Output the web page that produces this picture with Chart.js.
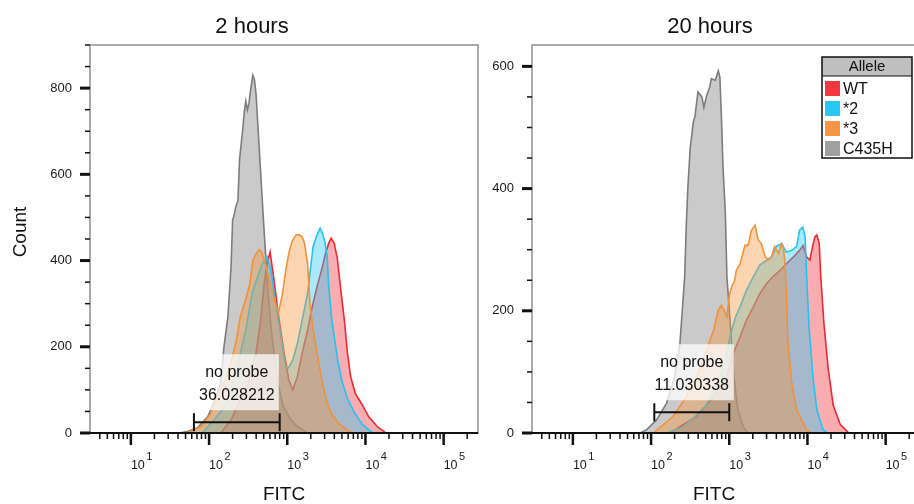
<!DOCTYPE html>
<html>
<head>
<meta charset="utf-8">
<script src="https://cdn.jsdelivr.net/npm/chart.js@4.4.1/dist/chart.umd.min.js"></script>
<style>
html, body { margin:0; padding:0; background:#fff; overflow:hidden; width:914px; height:504px; position:relative; }
canvas { position:absolute; top:0; }
#c1 { left:0; }
#c2 { left:480px; }
</style>
</head>
<body>
<canvas id="c1" width="480" height="504"></canvas>
<canvas id="c2" width="444" height="504"></canvas>
<script>
// ---------- DATA ----------
const seriesNames = ['WT', '*2', '*3', 'C435H'];
const panelTitles = ['2 hours', '20 hours'];
const xTickValues = [10, 100, 1000, 10000, 100000];
const xTickBase = '10';
const xTickExponents = ['1', '2', '3', '4', '5'];
const yTicks2h = [0, 200, 400, 600, 800];
const yTicks20h = [0, 200, 400, 600];

// 2 hours
const fitcC435H_2h = [41.7, 53.7, 70.8, 95.5, 115, 141, 155, 174, 191, 200, 209, 219, 234, 245, 269, 282, 295, 309, 324, 339, 363, 380, 398, 447, 501, 562, 617, 676, 776, 891, 1122, 1349, 1820];
const countC435H_2h = [0, 4, 12, 37, 70, 116, 200, 270, 385, 494, 505, 524, 540, 633, 703, 745, 770, 749, 765, 795, 830, 820, 788, 633, 480, 339, 250, 185, 107, 61, 30, 15, 0];
const fitcS3_2h = [52.5, 79.4, 105, 132, 162, 195, 224, 251, 295, 331, 363, 398, 437, 468, 525, 617, 708, 776, 871, 955, 1047, 1148, 1288, 1413, 1549, 1660, 1820, 1950, 2138, 2399, 2818, 3162, 3631, 4571, 6310, 7244];
const countS3_2h = [0, 15, 45, 90, 125, 170, 215, 270, 310, 345, 400, 415, 425, 420, 393, 339, 301, 281, 324, 378, 417, 444, 459, 460, 455, 440, 393, 301, 239, 185, 115, 76, 46, 22, 3, 0];
const fitcS2_2h = [81.3, 116, 145, 172, 230, 295, 355, 417, 479, 550, 617, 708, 832, 955, 1023, 1175, 1349, 1549, 1820, 1995, 2138, 2399, 2630, 2818, 3020, 3236, 3388, 3715, 4365, 5012, 5888, 7079, 9120, 11750, 13180];
const countS2_2h = [0, 30, 52, 76, 154, 239, 324, 362, 393, 409, 378, 301, 223, 154, 150, 169, 208, 262, 324, 386, 432, 459, 475, 463, 444, 410, 340, 262, 175, 120, 80, 50, 20, 3, 0];
const fitcWT_2h = [141, 191, 240, 309, 398, 457, 501, 550, 603, 676, 776, 912, 1047, 1175, 1349, 1549, 1820, 2089, 2399, 2818, 3090, 3388, 3631, 3981, 4365, 4786, 5370, 5888, 6457, 7413, 9120, 10960, 14130, 18200];
const countWT_2h = [0, 30, 70, 107, 185, 262, 339, 393, 420, 355, 270, 185, 123, 100, 131, 185, 239, 293, 339, 386, 417, 440, 452, 440, 405, 339, 262, 185, 131, 92, 65, 38, 15, 0];

// 20 hours
const fitcC435H_20h = [72.4, 87.1, 117, 158, 200, 234, 269, 282, 295, 316, 347, 363, 398, 447, 473, 513, 562, 589, 661, 724, 759, 794, 832, 891, 933, 1072, 1148, 1288, 1514, 1738];
const countC435H_20h = [0, 5, 21, 49, 92, 147, 256, 340, 400, 465, 509, 517, 558, 550, 533, 552, 566, 580, 577, 593, 582, 517, 435, 360, 256, 147, 92, 38, 10, 0];
const fitcS3_20h = [107, 191, 282, 380, 513, 631, 724, 794, 851, 933, 1000, 1072, 1175, 1230, 1380, 1585, 1738, 1928, 2138, 2344, 2570, 2884, 3162, 3467, 3802, 4266, 4677, 4898, 5129, 5370, 5623, 6310, 7244, 9772, 11220];
const countS3_20h = [0, 27, 59, 92, 136, 168, 201, 209, 201, 190, 225, 239, 250, 266, 277, 307, 307, 332, 340, 316, 310, 288, 283, 288, 305, 294, 310, 305, 283, 228, 147, 81, 38, 5, 0];
const fitcS2_20h = [158, 251, 363, 501, 708, 891, 1023, 1202, 1380, 1660, 2042, 2455, 3020, 3467, 3981, 4677, 5370, 6310, 7244, 7943, 8710, 9333, 9772, 10470, 11750, 13180, 15850, 18200];
const countS2_20h = [0, 10, 27, 45, 80, 115, 158, 190, 207, 234, 256, 275, 283, 288, 305, 310, 296, 299, 305, 332, 337, 321, 256, 174, 92, 38, 5, 0];
const fitcWT_20h = [174, 380, 631, 933, 1122, 1380, 1660, 2042, 2455, 3020, 3631, 4467, 5370, 6607, 7943, 8810, 9772, 10720, 11610, 12450, 13180, 14130, 14790, 16220, 18410, 21380, 26300, 33880];
const countWT_20h = [0, 27, 59, 92, 130, 158, 185, 207, 228, 245, 256, 266, 277, 288, 299, 307, 288, 283, 305, 321, 324, 310, 256, 180, 105, 45, 14, 0];

// gates ("no probe")
const gateName = 'no probe';
const gate2h = [64, 800];
const gateY2h = 25;
const gatePct2h = '36.028212';
const gate20h = [110, 1000];
const gateY20h = 34;
const gatePct20h = '11.030338';

// ---------- STYLE ----------
const FONT = '"Liberation Sans", Arial, Helvetica, sans-serif';
Chart.defaults.font.family = FONT;
const lineColor = { 'WT': 'rgb(238,40,50)', '*2': 'rgb(35,195,240)', '*3': 'rgb(242,145,55)', 'C435H': 'rgb(125,125,125)' };
const fillColor = { 'WT': 'rgba(240,50,60,0.40)', '*2': 'rgba(40,200,245,0.40)', '*3': 'rgba(245,150,60,0.40)', 'C435H': 'rgba(150,150,150,0.50)' };
const keyColor = { 'WT': 'rgb(245,55,65)', '*2': 'rgb(40,200,245)', '*3': 'rgb(245,150,70)', 'C435H': 'rgb(160,160,160)' };
const drawOrder = { '*3': 0, '*2': 1, 'WT': 2, 'C435H': 3 };
const TICK_FONT_SIZE = 12.5;

function pts(xs, ys) { return xs.map((x, i) => ({ x: x, y: ys[i] })); }
function ds(name, xs, ys) {
  return {
    label: name, data: pts(xs, ys), order: drawOrder[name],
    borderColor: lineColor[name], backgroundColor: fillColor[name],
    borderWidth: 1.6, pointRadius: 0, tension: 0, fill: 'origin'
  };
}

const panelPlugin = {
  id: 'panel',
  afterDraw(chart, args, o) {
    const ctx = chart.ctx, a = chart.chartArea, xs = chart.scales.x, ys = chart.scales.y;
    const seg = (x1, y1, x2, y2) => { ctx.beginPath(); ctx.moveTo(x1, y1); ctx.lineTo(x2, y2); ctx.stroke(); };
    ctx.save();
    // gate annotation
    const g1 = xs.getPixelForValue(o.gate[0]), g2 = xs.getPixelForValue(o.gate[1]);
    const gy = ys.getPixelForValue(o.gateY);
    const cx = (g1 + g2) / 2;
    ctx.fillStyle = 'rgba(255,255,255,0.75)';
    ctx.fillRect(cx - 42, gy - 68, 84, 56);
    ctx.strokeStyle = '#111'; ctx.lineWidth = 2;
    seg(g1, gy, g2, gy); seg(g1, gy - 9, g1, gy + 9); seg(g2, gy - 9, g2, gy + 9);
    ctx.fillStyle = '#111'; ctx.font = '16px ' + FONT; ctx.textAlign = 'center'; ctx.textBaseline = 'middle';
    ctx.fillText(gateName, cx, gy - 50);
    ctx.fillText(o.gatePct, cx, gy - 27);
    // frame
    ctx.strokeStyle = '#8f8f8f'; ctx.lineWidth = 1.5;
    ctx.strokeRect(a.left, a.top, a.right - a.left, a.bottom - a.top);
    // x axis line and ticks
    ctx.strokeStyle = '#111'; ctx.lineWidth = 2;
    seg(a.left - 10, a.bottom, a.right, a.bottom);
    for (let e = 0; e <= 5; e++) {
      for (let k = 1; k <= 9; k++) {
        const v = k * Math.pow(10, e);
        if (v <= xs.min || v >= xs.max) continue;
        const px = xs.getPixelForValue(v);
        const major = k === 1;
        ctx.lineWidth = major ? 2.5 : 1.5;
        seg(px, a.bottom, px, a.bottom + (major ? 12 : 6));
      }
    }
    // exponents of the x tick labels (the "10" base is drawn by the axis)
    ctx.fillStyle = '#1a1a1a'; ctx.textAlign = 'left'; ctx.textBaseline = 'alphabetic';
    ctx.font = TICK_FONT_SIZE + 'px ' + FONT;
    const baseW = ctx.measureText(xTickBase).width;
    ctx.font = '11px ' + FONT;
    xTickValues.forEach((v, i) => {
      const px = xs.getPixelForValue(v);
      ctx.fillText(xTickExponents[i], px + baseW + 1.5, a.bottom + 27);
    });
    // y ticks
    ctx.strokeStyle = '#111';
    for (let v = 0; v <= ys.max; v += 50) {
      const py = ys.getPixelForValue(v);
      const major = v % 200 === 0;
      ctx.lineWidth = major ? 3 : 1.5;
      seg(a.left - (major ? 10 : 5), py, a.left, py);
    }
    // titles
    ctx.fillStyle = '#111'; ctx.textAlign = 'center'; ctx.textBaseline = 'middle';
    ctx.font = '22px ' + FONT;
    ctx.fillText(o.title, o.titleX, 27);
    ctx.font = '19px ' + FONT;
    ctx.fillText('FITC', o.fitcX, 495);
    if (o.count) {
      ctx.save(); ctx.translate(21, 232); ctx.rotate(-Math.PI / 2);
      ctx.fillText('Count', 0, 0); ctx.restore();
    }
    // legend
    if (o.legend) {
      const L = o.legend;
      ctx.fillStyle = '#fff'; ctx.fillRect(L.x, L.y, L.w, L.h);
      ctx.fillStyle = 'rgb(192,192,192)'; ctx.fillRect(L.x, L.y, L.w, 19);
      ctx.strokeStyle = '#111'; ctx.lineWidth = 1.2;
      seg(L.x, L.y + 19, L.x + L.w, L.y + 19);
      ctx.lineWidth = 1.5; ctx.strokeRect(L.x, L.y, L.w, L.h);
      ctx.fillStyle = '#111'; ctx.font = '15px ' + FONT; ctx.textAlign = 'center';
      ctx.fillText('Allele', L.x + L.w / 2, L.y + 10);
      ctx.textAlign = 'left'; ctx.font = '16px ' + FONT;
      seriesNames.forEach((n, i) => {
        const ty = L.y + 24 + i * 20;
        ctx.fillStyle = keyColor[n]; ctx.fillRect(L.x + 3, ty, 15, 15);
        ctx.fillStyle = '#111'; ctx.fillText(n, L.x + 21, ty + 8.5);
      });
    }
    ctx.restore();
  }
};

function makeChart(id, p) {
  return new Chart(document.getElementById(id), {
    type: 'line',
    data: { datasets: p.datasets },
    options: {
      responsive: false, animation: false, events: [],
      layout: { padding: { top: 45, right: p.padRight, left: 0, bottom: 0 } },
      plugins: { legend: { display: false }, tooltip: { enabled: false }, title: { display: false }, panel: p.panel },
      scales: {
        x: {
          type: 'logarithmic', min: 3.0, max: 275000,
          afterFit: s => { s.height = 71; s.paddingLeft = 0; s.paddingRight = 0; },
          afterBuildTicks: s => { s.ticks = xTickValues.map(v => ({ value: v })); },
          ticks: { autoSkip: false, maxRotation: 0, align: 'start', padding: 25, color: '#1a1a1a',
                   font: { size: TICK_FONT_SIZE }, callback: () => xTickBase },
          grid: { display: false, drawTicks: false }, border: { display: false }
        },
        y: {
          type: 'linear', min: 0, max: p.yMax,
          afterFit: s => { s.width = p.yWidth; s.paddingTop = 0; s.paddingBottom = 0; },
          afterBuildTicks: s => { s.ticks = p.yTicks.map(v => ({ value: v })); },
          ticks: { padding: 18, color: '#1a1a1a', font: { size: 13 } },
          grid: { display: false, drawTicks: false }, border: { display: false }
        }
      }
    },
    plugins: [panelPlugin]
  });
}

makeChart('c1', {
  padRight: 2, yWidth: 90, yMax: 900, yTicks: yTicks2h,
  datasets: [
    ds('*3', fitcS3_2h, countS3_2h),
    ds('*2', fitcS2_2h, countS2_2h),
    ds('WT', fitcWT_2h, countWT_2h),
    ds('C435H', fitcC435H_2h, countC435H_2h)
  ],
  panel: { title: panelTitles[0], titleX: 252, fitcX: 284, count: true,
           gate: gate2h, gateY: gateY2h, gatePct: gatePct2h }
});

makeChart('c2', {
  padRight: 4, yWidth: 52, yMax: 635, yTicks: yTicks20h,
  datasets: [
    ds('*3', fitcS3_20h, countS3_20h),
    ds('*2', fitcS2_20h, countS2_20h),
    ds('WT', fitcWT_20h, countWT_20h),
    ds('C435H', fitcC435H_20h, countC435H_20h)
  ],
  panel: { title: panelTitles[1], titleX: 230, fitcX: 234, count: false,
           gate: gate20h, gateY: gateY20h, gatePct: gatePct20h,
           legend: { x: 342, y: 57, w: 90, h: 101 } }
});
</script>
</body>
</html>
